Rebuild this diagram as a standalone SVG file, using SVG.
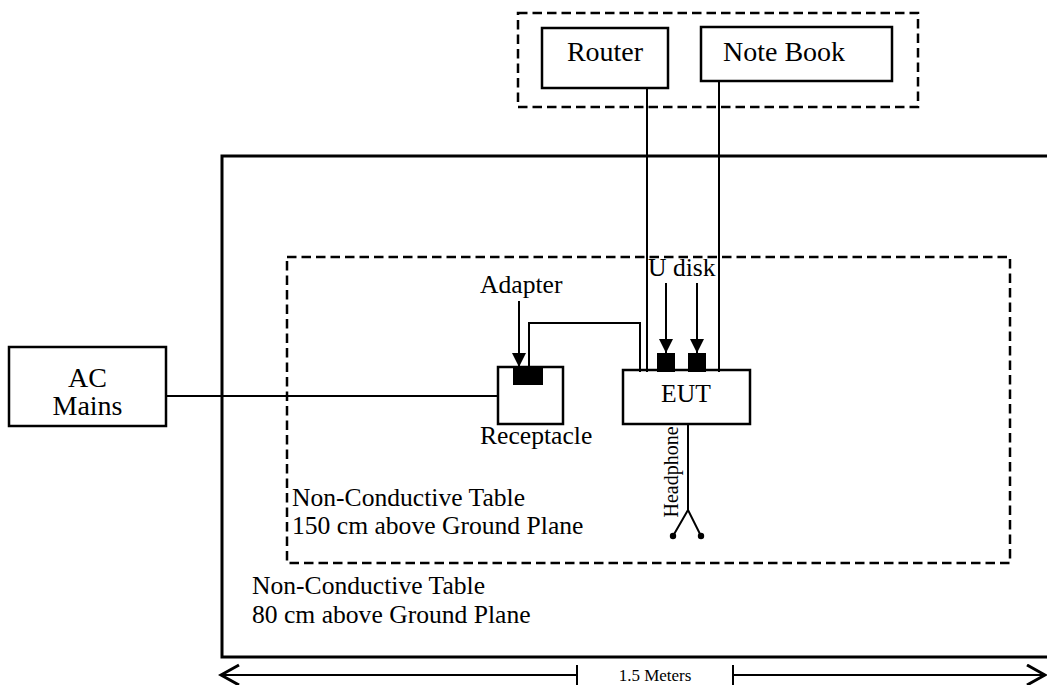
<svg xmlns="http://www.w3.org/2000/svg" width="1047" height="685" viewBox="0 0 1047 685">
<style>
text{font-family:"Liberation Serif","Times New Roman",serif;fill:#000}
.box{fill:#fff;stroke:#000;stroke-width:2.5}
.dash{fill:none;stroke:#000;stroke-width:2.5;stroke-dasharray:9.5 5}
.w{fill:none;stroke:#000;stroke-width:2}
.t28{font-size:28px}
.t26{font-size:25.6px}
</style>
<defs>
<marker id="tri" markerUnits="userSpaceOnUse" markerWidth="16" markerHeight="16" refX="14" refY="7" orient="auto">
<path d="M0,0 L14,7 L0,14 z" fill="#000"/>
</marker>
<marker id="chev" markerUnits="userSpaceOnUse" markerWidth="22" markerHeight="24" refX="19" refY="11" orient="auto-start-reverse">
<path d="M1,1 L19,11 L1,21" fill="none" stroke="#000" stroke-width="3"/>
</marker>
</defs>

<g id="table80">
<rect x="222" y="156" width="840" height="501" fill="none" stroke="#000" stroke-width="3"/>
<text class="t26" x="252" y="594">Non-Conductive Table</text>
<text class="t26" x="252" y="623">80 cm above Ground Plane</text>
</g>

<g id="table150">
<rect class="dash" x="287" y="257" width="723" height="306"/>
<text class="t26" x="292" y="506">Non-Conductive Table</text>
<text class="t26" x="292" y="534">150 cm above Ground Plane</text>
</g>

<g id="support">
<rect class="dash" x="518" y="13" width="400" height="94"/>
</g>

<g id="router">
<rect class="box" x="542" y="28" width="126" height="60"/>
<text class="t28" x="605" y="61" text-anchor="middle">Router</text>
</g>

<g id="notebook">
<rect class="box" x="701" y="27" width="191" height="54"/>
<text class="t28" x="723" y="61">Note Book</text>
</g>

<g id="acmains">
<rect class="box" x="9" y="347" width="157" height="79"/>
<text class="t28" x="87.5" y="387" text-anchor="middle">AC</text>
<text class="t28" x="87.5" y="415" text-anchor="middle">Mains</text>
</g>

<g id="receptacle">
<rect class="box" x="498" y="367" width="65" height="57"/>
<rect x="513" y="367" width="30" height="18" fill="#000"/>
<text class="t26" x="480" y="444">Receptacle</text>
</g>

<g id="eut">
<rect class="box" x="623" y="370" width="127" height="54"/>
<text class="t26" x="686" y="402" text-anchor="middle">EUT</text>
<rect x="657" y="353" width="18" height="19" fill="#000"/>
<rect x="688" y="353" width="18" height="19" fill="#000"/>
</g>

<g id="labels">
<text class="t26" x="480" y="293">Adapter</text>
<text class="t26" x="648" y="276">U disk</text>
<text x="678" y="472" font-size="20" text-anchor="middle" transform="rotate(-90 678 472)">Headphone</text>
</g>

<g id="connectors">
<line class="w" x1="166" y1="396" x2="498" y2="396"/>
<polyline class="w" points="529,367 529,323 640,323 640,372"/>
<line class="w" x1="647" y1="88" x2="647" y2="372"/>
<line class="w" x1="719" y1="81" x2="719" y2="372"/>
<line class="w" x1="519" y1="301" x2="519" y2="367" marker-end="url(#tri)"/>
<line class="w" x1="666" y1="283" x2="666" y2="353" marker-end="url(#tri)"/>
<line class="w" x1="697" y1="283" x2="697" y2="353" marker-end="url(#tri)"/>
<polyline class="w" points="688,424 688,510 673,536"/>
<line class="w" x1="688" y1="510" x2="701" y2="536"/>
<circle cx="673" cy="536" r="3.2" fill="#000"/>
<circle cx="701" cy="536" r="3.2" fill="#000"/>
</g>

<g id="dimension">
<line class="w" x1="221" y1="675" x2="577" y2="675" marker-start="url(#chev)"/>
<line class="w" x1="733" y1="675" x2="1045" y2="675" marker-end="url(#chev)"/>
<line class="w" x1="577" y1="665" x2="577" y2="685"/>
<line class="w" x1="733" y1="665" x2="733" y2="685"/>
<text x="655" y="681" font-size="17" text-anchor="middle">1.5 Meters</text>
</g>
</svg>
